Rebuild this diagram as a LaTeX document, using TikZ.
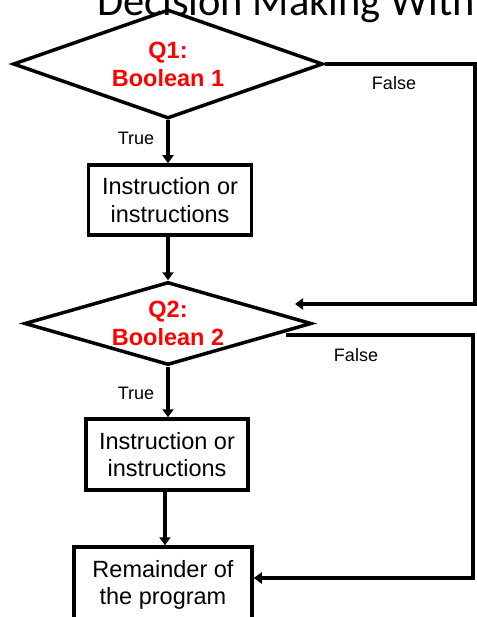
\documentclass[tikz,border=0pt]{standalone}
\usepackage{fontspec}
\setmainfont{Liberation Sans}
\newfontfamily\titlefont{Carlito}
\usetikzlibrary{arrows.meta,shapes.geometric}
\definecolor{qred}{HTML}{FF0000}

\begin{document}
\begin{tikzpicture}[x=1pt, y=-1pt,
  decision/.style={diamond, draw, line width=3.5pt, inner sep=0pt, aspect=3.5,
    font=\fontsize{23.5}{28}\selectfont\bfseries, text=qred, align=center},
  instr/.style={rectangle, draw, line width=3.5pt, inner sep=0pt, align=center,
    font=\fontsize{23.5}{27.5}\selectfont},
  flow/.style={line width=4pt, -{Triangle[length=8pt,width=11pt]}},
  branch/.style={font=\fontsize{18}{20}\selectfont}]
\useasboundingbox (0,0) rectangle (476,617);
% ---------------- title (cut off by the page) ----------------
\node[anchor=base west, inner sep=0pt, font=\titlefont\fontsize{42.5}{48}\selectfont]
  (title) at (97,16) {Decision Making With};
% ---------------- first question ----------------
\node[decision, minimum width=310pt, minimum height=109pt] (q1) at (168,64) {Q1:\\Boolean 1};
\node[instr, minimum width=163pt, minimum height=70pt] (box1) at (170,200)
  {Instruction or\\instructions};
\node[branch] (t1) at (136,138) {True};
\node[branch] (f1) at (394,83) {False};
% ---------------- second question ----------------
\node[decision, minimum width=287pt, minimum height=83pt] (q2) at (168,323.5) {Q2:\\Boolean 2};
\node[instr, minimum width=162pt, minimum height=71pt] (box2) at (167,454.5)
  {Instruction or\\instructions};
\node[branch] (t2) at (136,393) {True};
\node[branch] (f2) at (356,355) {False};
% ---------------- rest of the program ----------------
\node[instr, minimum width=178pt, minimum height=76pt] (box3) at (163,585)
  {Remainder of\\the program};
% ---------------- connectors ----------------
\coordinate (c1) at (475,304);
\coordinate (in2) at (295,304);
\coordinate (out2) at (286,335);
\coordinate (c2) at (473,578);
\draw[flow] (q1.south) -- (q1.south |- box1.north);
\draw[flow] (box1.south -| q2.north) -- (q2.north);
\draw[flow] (q2.south) -- (q2.south |- box2.north);
\draw[flow] (box2.south -| 165,0) -- (165,0 |- box3.north);
\draw[flow] (q1.east) -| (c1) -- (in2);
\draw[flow] (out2) -| (c2) -- (c2 -| box3.east);
\end{tikzpicture}
\end{document}
